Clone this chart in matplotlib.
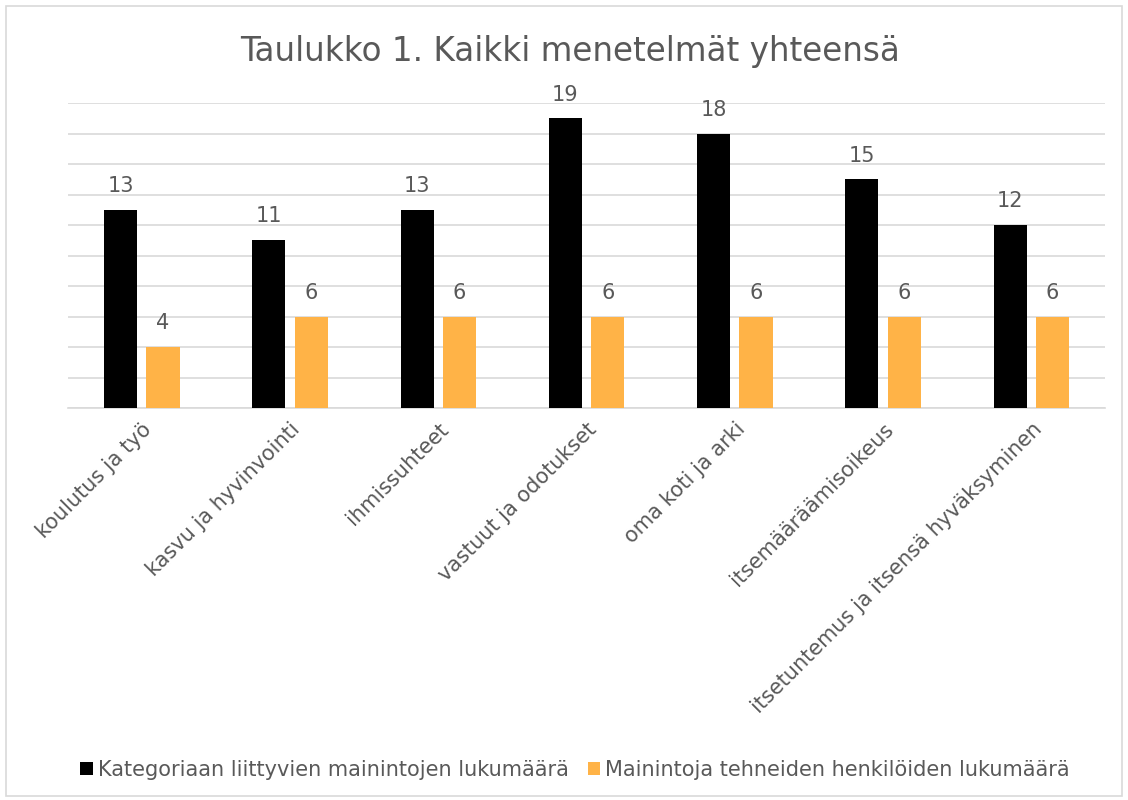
import matplotlib
matplotlib.use("Agg")
import matplotlib.pyplot as plt
import numpy as np
from matplotlib.patches import Rectangle

categories = ["koulutus ja työ", "kasvu ja hyvinvointi", "ihmissuhteet",
              "vastuut ja odotukset", "oma koti ja arki", "itsemääräämisoikeus",
              "itsetuntemus ja itsensä hyväksyminen"]
mentions = [13, 11, 13, 19, 18, 15, 12]
persons = [4, 6, 6, 6, 6, 6, 6]
series_names = ["Kategoriaan liittyvien mainintojen lukumäärä",
                "Mainintoja tehneiden henkilöiden lukumäärä"]
title = "Taulukko 1. Kaikki menetelmät yhteensä"

plt.rcParams['font.family'] = ['DejaVu Sans']
txt = "#595959"
black = "#000000"
orange = "#FFB347"

fig = plt.figure(figsize=(11.28, 8.0), dpi=100)
fig.patches.append(Rectangle((0.005, 0.005), 0.99, 0.988, transform=fig.transFigure,
                             fill=False, edgecolor="#D9D9D9", linewidth=1.2))
ax = fig.add_axes([0.060, 0.49, 0.920, 0.381])

x = np.arange(len(categories))
w = 0.223
off = 0.143
b1 = ax.bar(x - off, mentions, w, color=black, label=series_names[0], zorder=3)
b2 = ax.bar(x + off, persons, w, color=orange, label=series_names[1], zorder=3)

for bars, vals in ((b1, mentions), (b2, persons)):
    for r, v in zip(bars, vals):
        ax.annotate(str(v), (r.get_x() + r.get_width() / 2, v), xytext=(0, 10),
                    textcoords="offset points", ha="center", va="bottom",
                    fontsize=15, color=txt)

ax.set_xlim(-0.5, len(categories) - 0.5)
ax.set_ylim(0, 20)
ax.set_yticks(np.arange(0, 21, 2))
ax.yaxis.grid(True, color="#D9D9D9", linewidth=1.2, zorder=0)
ax.tick_params(axis="y", left=False, labelleft=False)
ax.tick_params(axis="x", length=0, pad=8)
for s in ["top", "right", "left"]:
    ax.spines[s].set_visible(False)
ax.spines["bottom"].set_color("#D9D9D9")
ax.spines["bottom"].set_linewidth(1.2)

ax.set_xticks(x)
ax.set_xticklabels(categories, rotation=45, ha="right", rotation_mode="anchor",
                   fontsize=15, color=txt)

fig.text(0.505, 0.935, title, ha="center", va="center", fontsize=23.5, color=txt)

fig.legend(handles=[b1, b2], labels=series_names, loc="center",
           bbox_to_anchor=(0.51, 0.038), ncol=2, frameon=False, fontsize=15,
           labelcolor=txt, handlelength=0.6, handleheight=0.6, handletextpad=0.25,
           columnspacing=0.9)

fig.savefig("out.png", dpi=100)
